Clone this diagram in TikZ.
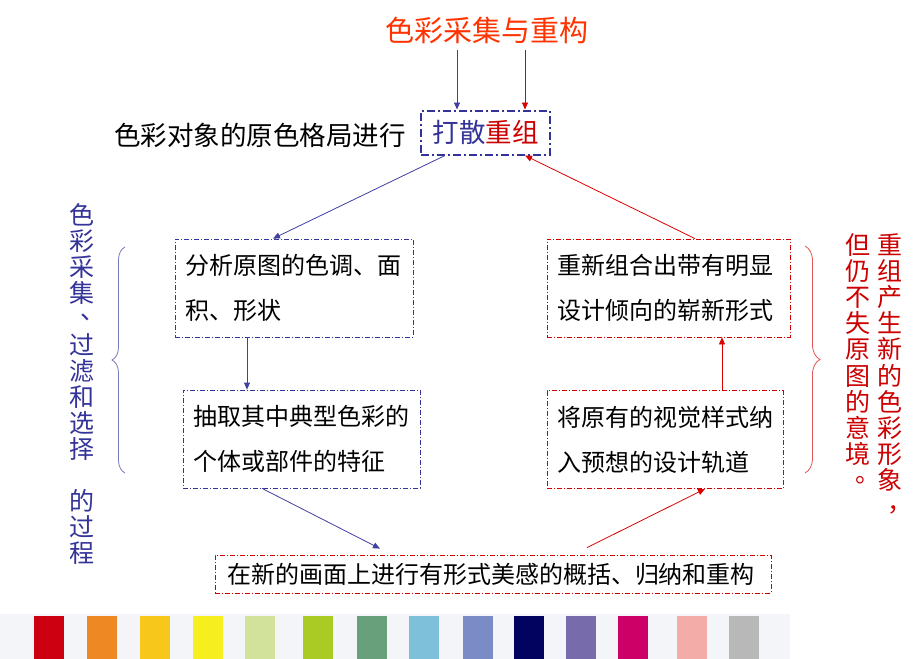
\documentclass[tikz,border=0pt]{standalone}
\usepackage{fontspec}
\setmainfont{Noto Sans CJK SC}
\usetikzlibrary{arrows.meta,decorations.pathreplacing}
\definecolor{nblue}{HTML}{333399}
\definecolor{ablue}{HTML}{4040A0}
\definecolor{dred}{HTML}{CC0000}
\definecolor{ared}{HTML}{DD0000}
\definecolor{ttl}{HTML}{FF3300}
\definecolor{lbrace}{HTML}{7777BB}
\definecolor{rbrace}{HTML}{E05555}
\definecolor{stripbg}{HTML}{F4F5F8}
\definecolor{sw1}{HTML}{CC0011}
\definecolor{sw2}{HTML}{EE8822}
\definecolor{sw3}{HTML}{F7C71C}
\definecolor{sw4}{HTML}{F6EE1E}
\definecolor{sw5}{HTML}{D3E29A}
\definecolor{sw6}{HTML}{A9CB23}
\definecolor{sw7}{HTML}{67A07B}
\definecolor{sw8}{HTML}{7EBFD9}
\definecolor{sw9}{HTML}{7A8BC6}
\definecolor{sw10}{HTML}{02025F}
\definecolor{sw11}{HTML}{786BAC}
\definecolor{sw12}{HTML}{CC0066}
\definecolor{sw13}{HTML}{F3ACA8}
\definecolor{sw14}{HTML}{B8B8B8}
\newcommand{\vpunct}[3]{\makebox[1em][l]{\hspace{#1}\raisebox{#2}{#3}}}
\begin{document}
\begin{tikzpicture}[x=1pt,y=-1pt,
  bluebox/.style={draw=nblue, line width=0.8pt, dash pattern=on 5pt off 2pt on 1pt off 2pt,
    inner ysep=0pt, minimum height=98pt, align=left, font=\fontsize{24}{45}\selectfont},
  redbox/.style={bluebox, draw=dred},
  barrow/.style={draw=ablue, line width=0.8pt, -{Triangle[length=7pt,width=6pt]}},
  rarrow/.style={draw=ared, line width=0.8pt, -{Triangle[length=7pt,width=6pt]}},
  vtext/.style={align=center, inner sep=0pt, anchor=north},
  bracestyle/.style={line width=0.8pt, decorate},
]
\useasboundingbox (0,0) rectangle (919,659);
\fill[white] (0,0) rectangle (919,659);

% title and top box
\node[font=\fontsize{29}{29}\selectfont, text=ttl, inner sep=0pt] (title) at (487,30) {色彩采集与重构};
\node[draw=nblue, line width=2pt, dash pattern=on 8pt off 3pt on 2pt off 3pt,
  minimum width=129pt, minimum height=44pt, inner sep=0pt,
  font=\fontsize{26.5}{26.5}\selectfont] (tb) at (485.5,132.5)
  {\textcolor{nblue}{打散}\textcolor{dred}{重组}};
\node[font=\fontsize{26.5}{26.5}\selectfont, inner sep=0pt] (lead) at (260,135) {色彩对象的原色格局进行};

% boxes
\node[bluebox, inner xsep=10pt, text width=218pt] (lb1) at (294,288) {分析原图的色调、面\\积、形状};
\node[bluebox, inner xsep=10pt, text width=217pt] (lb2) at (301.5,439) {抽取其中典型色彩的\\个体或部件的特征};
\node[redbox, inner xsep=10pt, text width=223pt] (rb1) at (668.5,288) {重新组合出带有明显\\设计倾向的崭新形式};
\node[redbox, inner xsep=10pt, text width=216pt] (rb2) at (665,439.5) {将原有的视觉样式纳\\入预想的设计轨道};
\node[redbox, minimum height=38pt, inner xsep=12pt, text width=532pt] (bb) at (493,574)
  {在新的画面上进行有形式美感的概括、归纳和重构};

% connectors
\draw[barrow, shorten <=6pt] ([xshift=-30pt]title.south) -- ([xshift=-28.5pt]tb.north);
\draw[rarrow, shorten <=6pt] ([xshift=38pt]title.south) -- ([xshift=39.5pt]tb.north);
\draw[barrow] ([xshift=-40.5pt]tb.south) -- ([xshift=-21pt]lb1.north);
\draw[rarrow] ([xshift=26.5pt]rb1.north) -- ([xshift=39.5pt]tb.south);
\draw[barrow] ([xshift=-47pt]lb1.south) -- ([xshift=-54.5pt]lb2.north);
\draw[rarrow] ([xshift=57pt]rb2.north) -- ([xshift=53.5pt]rb1.south);
\draw[barrow] ([xshift=-39.5pt]lb2.south) -- ([xshift=-113pt,yshift=6pt]bb.north);
\draw[rarrow] ([xshift=94pt,yshift=7pt]bb.north) -- ([xshift=40pt]rb2.south);

% braces
\draw[bracestyle, draw=lbrace, decoration={brace, amplitude=13pt}] (125,473) -- (125,247);
\draw[bracestyle, draw=rbrace, decoration={brace, amplitude=15pt}] (805,246) -- (805,473);

% vertical texts
\node[vtext, text=nblue, font=\fontsize{25}{26}\selectfont] (lv) at (82,203)
  {色\\彩\\采\\集\\\vpunct{0.45em}{0.35em}{、}\\过\\滤\\和\\选\\择\\[26pt]的\\过\\程};
\node[vtext, text=dred, font=\fontsize{25}{26.2}\selectfont] (rv1) at (890,233)
  {重\\组\\产\\生\\新\\的\\色\\彩\\形\\象\\\vpunct{0.4em}{0.2em}{，}};
\node[vtext, text=dred, font=\fontsize{25}{26.2}\selectfont] (rv2) at (858,233)
  {但\\仍\\不\\失\\原\\图\\的\\意\\境\\\vpunct{0.4em}{0.3em}{。}};

% colour strip
\fill[stripbg] (0,614) rectangle (790,659);
\foreach \xa/\col in {34/sw1,87/sw2,140/sw3,193/sw4,245/sw5,303/sw6,357/sw7,409/sw8,463/sw9,514/sw10,566/sw11,618/sw12,677/sw13,729/sw14}
  \fill[\col] (\xa,616) rectangle ++(30,43);
\end{tikzpicture}
\end{document}
